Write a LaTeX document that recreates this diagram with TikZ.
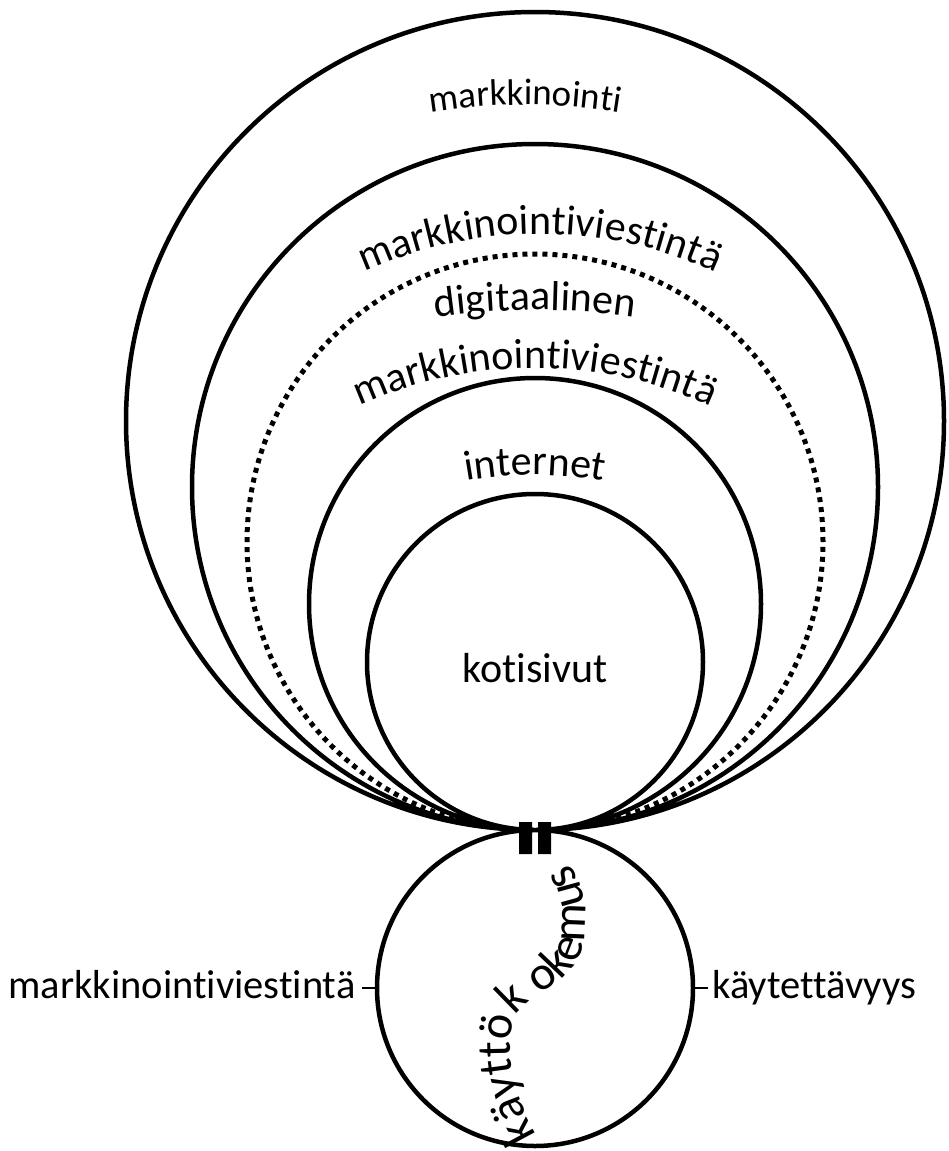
\documentclass[tikz,border=0pt]{standalone}
\usepackage{fontspec}
\setmainfont{Carlito}[Ligatures={NoCommon}]
\usetikzlibrary{decorations.text}

\newcommand\lblfont{\fontsize{42}{50}\selectfont}
\newcommand\sidefont{\fontsize{40.5}{48}\selectfont}
\newcommand\topfont{\fontsize{37}{44}\selectfont}
\newcommand\kokfont{\fontsize{48}{56}\selectfont}

\tikzset{
  ring/.style={line width=4.5},
  dotring/.style={line width=5, dash pattern=on 5pt off 5pt},
  tick/.style={line width=2},
  lbl/.style={font=\lblfont},
  sidelbl/.style={font=\sidefont},
  arctext/.style={decorate, decoration={text along path, text align=center, text={#1}}},
}

\begin{document}
\begin{tikzpicture}[x=1pt,y=1pt]
\useasboundingbox (0,0) rectangle (948,-1151);

% centres of the rings, all touching at the bottom
\coordinate (touch) at (535,-830);
\coordinate (c1) at (535,-421);
\coordinate (c2) at (535,-487);
\coordinate (c3) at (535,-542);
\coordinate (c4) at (535,-604);
\coordinate (c5) at (535,-662);
\coordinate (c6) at (535,-988);

\draw[ring] (c1) circle (409) (c2) circle (343) (c4) circle (226) (c5) circle (168) (c6) circle (158);
\draw[dotring] (c3) circle (288);

% curved labels
\coordinate (t1) at (525,-705);
\coordinate (t2) at (540,-658);
\coordinate (t3) at (535,-1010);
\coordinate (t4) at (535,-792);
\coordinate (t5) at (535,-875);
\path[arctext={|\topfont|markkinointi}] ([shift={(105:600)}]t1) arc[start angle=105, end angle=75, radius=600];
\path[arctext={|\lblfont|markkinointiviestintä}] ([shift={(120:424)}]t2) arc[start angle=120, end angle=60, radius=424];
\path[arctext={|\lblfont|digitaalinen}] ([shift={(105:700)}]t3) arc[start angle=105, end angle=75, radius=700];
\path[arctext={|\lblfont|markkinointiviestintä}] ([shift={(120:424)}]t4) arc[start angle=120, end angle=60, radius=424];
\path[arctext={|\lblfont|internet}] ([shift={(110:400)}]t5) arc[start angle=110, end angle=70, radius=400];

\node[lbl] (koti) at (535,-668) {kotisivut};

% joint
\fill (519,-822) rectangle (532,-854) (538,-822) rectangle (551,-854);

% bottom ring
\path[decorate, decoration={text along path, text={|\kokfont|käyttök okemus}}]
  (537,-1135) .. controls (512,-1095) and (505,-1045) .. (515,-1018)
  .. controls (525,-995) and (575,-985) .. (583,-945)
  .. controls (591,-905) and (582,-872) .. (555,-848);

\coordinate (tw) at (377,-988);
\coordinate (te) at (693,-988);
\draw[tick] (tw) -- ++(-15,0) (te) -- ++(15,0);
\node[sidelbl, anchor=base east] (viesti) at (359,-998) {markkinointiviestintä};
\node[sidelbl, anchor=base west] (kaytto) at (709,-998) {käytettävyys};
\end{tikzpicture}
\end{document}
